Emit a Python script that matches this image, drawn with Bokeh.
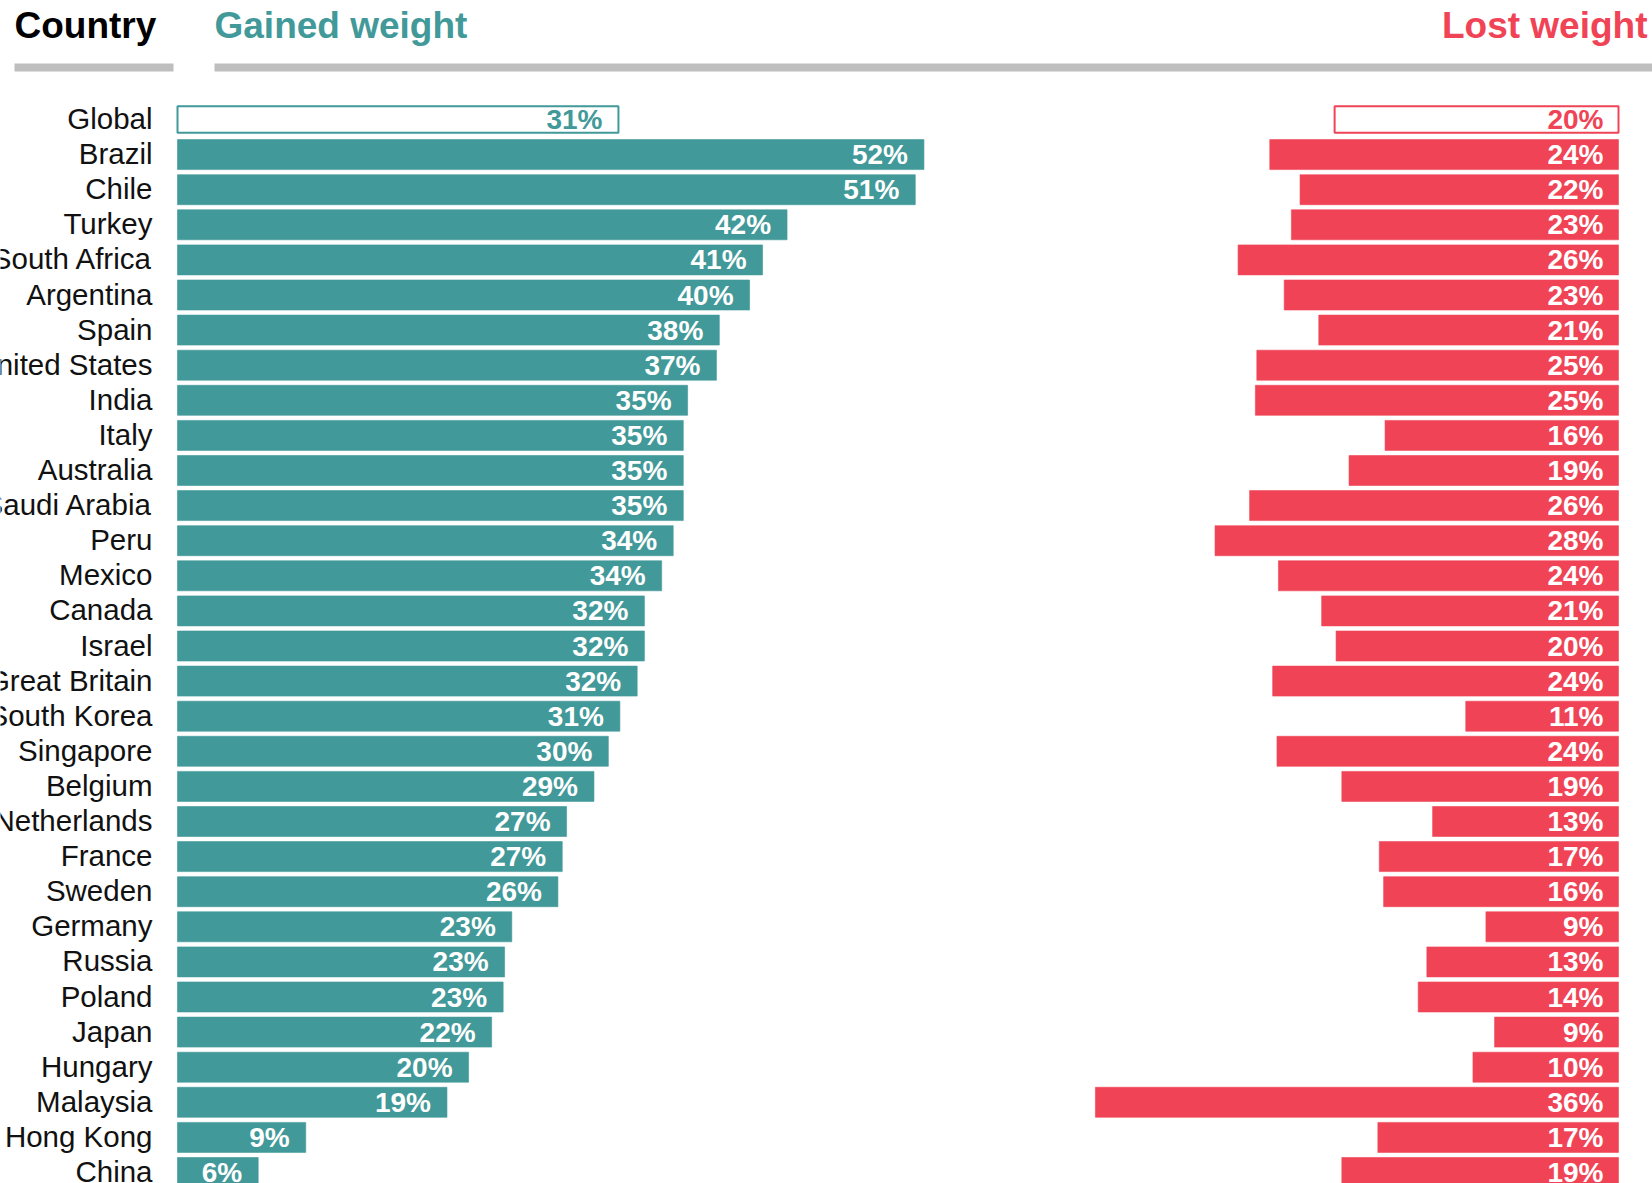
from bokeh.plotting import figure
from bokeh.models import Range1d, ColumnDataSource
from bokeh.core.properties import value
from bokeh.embed import file_html
from bokeh.resources import INLINE

# ---------------- data ----------------
countries = ["Global", "Brazil", "Chile", "Turkey", "South Africa", "Argentina", "Spain",
             "United States", "India", "Italy", "Australia", "Saudi Arabia", "Peru", "Mexico",
             "Canada", "Israel", "Great Britain", "South Korea", "Singapore", "Belgium",
             "Netherlands", "France", "Sweden", "Germany", "Russia", "Poland", "Japan",
             "Hungary", "Malaysia", "Hong Kong", "China"]
# share that gained weight (%), as drawn by the bars
gained = [30.6, 51.8, 51.2, 42.3, 40.6, 39.7, 37.6, 37.4, 35.4, 35.1, 35.1, 35.1, 34.4, 33.6,
          32.4, 32.4, 31.9, 30.7, 29.9, 28.9, 27.0, 26.7, 26.4, 23.2, 22.7, 22.6, 21.8,
          20.2, 18.7, 8.9, 5.6]
# printed labels (%)
gained_pct = [31, 52, 51, 42, 41, 40, 38, 37, 35, 35, 35, 35, 34, 34, 32, 32, 32, 31, 30, 29,
              27, 27, 26, 23, 23, 23, 22, 20, 19, 9, 6]
# share that lost weight (%), as drawn by the bars
lost = [19.7, 24.2, 22.1, 22.7, 26.4, 23.2, 20.8, 25.1, 25.2, 16.2, 18.7, 25.6, 28.0, 23.6,
        20.6, 19.6, 24.0, 10.6, 23.7, 19.2, 12.9, 16.6, 16.3, 9.2, 13.3, 13.9, 8.6, 10.1,
        36.3, 16.7, 19.2]
lost_pct = [20, 24, 22, 23, 26, 23, 21, 25, 25, 16, 19, 26, 28, 24, 21, 20, 24, 11, 24, 19,
            13, 17, 16, 9, 13, 14, 9, 10, 36, 17, 19]
headers = ["Country", "Gained weight", "Lost weight"]

# ---------------- layout ----------------
W, H = 1652, 1183
PAGE_OFF = 0
X0_PAGE, SCALE_X = 177.0, 14.41      # page px of value 0, px per percent
Y0_PAGE, SCALE_Y = 119.0, 35.1       # page px of first row centre, px per row
LOST_ANCHOR = 100.0                  # right edge of the "lost" bars (data units)

def xd(px):
    return (px - X0_PAGE) / SCALE_X

def yd(py):
    return (py - Y0_PAGE) / SCALE_Y

TEAL = "#429999"
RED = "#F04456"
GRAY = "#BEBEBE"
FONT = "Liberation Sans"

p = figure(width=W, height=H, output_backend="svg", toolbar_location=None,
           x_range=Range1d(xd(PAGE_OFF), xd(PAGE_OFF + W)),
           y_range=Range1d(yd(PAGE_OFF + H), yd(PAGE_OFF)),
           x_axis_location=None, y_axis_location=None, min_border=0)
p.outline_line_color = None
p.xgrid.visible = False
p.ygrid.visible = False
p.background_fill_color = "white"
p.border_fill_color = "white"

idx = list(range(len(countries)))
src = ColumnDataSource(dict(
    y=idx, country=countries, gained=gained, lost=lost,
    lost_left=[LOST_ANCHOR - v for v in lost],
    lost_right=[LOST_ANCHOR] * len(lost),
    zero=[0] * len(lost),
    glabel=[f"{v}%" for v in gained_pct], llabel=[f"{v}%" for v in lost_pct],
    gfill=["white" if i == 0 else TEAL for i in idx],
    lfill=["white" if i == 0 else RED for i in idx],
    gtext=[TEAL if i == 0 else "white" for i in idx],
    ltext=[RED if i == 0 else "white" for i in idx],
    lw=[2 if i == 0 else 0.6 for i in idx],
    h=[0.76 if i == 0 else 0.855 for i in idx],
    cx=[xd(152)] * len(idx),
))

# header rules
p.segment(x0=[xd(14), xd(214)], y0=[yd(67)] * 2, x1=[xd(173), xd(1660)], y1=[yd(67)] * 2,
          line_color=GRAY, line_width=8, line_cap="butt")

# headers (cap centre at page y 25)
hy = yd(25)
p.text(x=[xd(14)], y=[hy], text=[headers[0]], text_color="black",
       text_font=value(FONT), text_font_style="bold", text_font_size="37px",
       text_align="left", text_baseline="alphabetic")
p.text(x=[xd(214)], y=[hy], text=[headers[1]], text_color=TEAL,
       text_font=value(FONT), text_font_style="bold", text_font_size="37px",
       text_align="left", text_baseline="alphabetic")
p.text(x=[xd(1647)], y=[hy], text=[headers[2]], text_color=RED,
       text_font=value(FONT), text_font_style="bold", text_font_size="37px",
       text_align="right", text_baseline="alphabetic")

# bars
p.hbar(y="y", left="zero", right="gained", height="h", source=src,
       fill_color="gfill", line_color=TEAL, line_width="lw")
p.hbar(y="y", left="lost_left", right="lost_right", height="h", source=src,
       fill_color="lfill", line_color=RED, line_width="lw")

# country names
p.text(x="cx", y="y", text="country", source=src, text_color="#111111",
       text_font=value(FONT), text_font_size="29.5px", text_align="right",
       text_baseline="alphabetic", y_offset=-1)

# value labels
p.text(x="gained", y="y", text="glabel", source=src, text_color="gtext",
       text_font=value(FONT), text_font_style="bold", text_font_size="28px",
       text_align="right", text_baseline="alphabetic", x_offset=-16, y_offset=0)
p.text(x="lost_right", y="y", text="llabel", source=src, text_color="ltext",
       text_font=value(FONT), text_font_style="bold", text_font_size="28px",
       text_align="right", text_baseline="alphabetic", x_offset=-15, y_offset=0)

open("out.html", "w").write(file_html(p, INLINE))
